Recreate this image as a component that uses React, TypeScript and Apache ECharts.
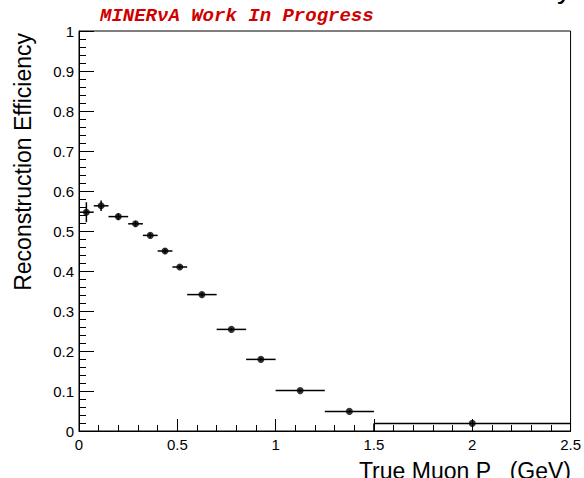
import React, { useEffect, useRef } from "react";
import * as echarts from "echarts";

// Muon momentum bin edges (GeV) and the measured efficiency in each bin
const binEdges = [0, 0.075, 0.15, 0.25, 0.325, 0.4, 0.475, 0.55, 0.7, 0.85, 1.0, 1.25, 1.5, 2.5];
const efficiency = [0.547, 0.563, 0.536, 0.518, 0.489, 0.45, 0.41, 0.341, 0.254, 0.179, 0.101, 0.049, 0.019];
const efficiencyErr = [0.025, 0.013, 0.008, 0.007, 0.006, 0.006, 0.005, 0.005, 0.004, 0.004, 0.003, 0.003, 0.002];

const xTickLabels = ["0", "0.5", "1", "1.5", "2", "2.5"];
const yTickLabels = ["0", "0.1", "0.2", "0.3", "0.4", "0.5", "0.6", "0.7", "0.8", "0.9", "1"];

const FONT = "'Liberation Sans', Arial, Helvetica, sans-serif";

export default function App() {
  const ref = useRef<HTMLDivElement>(null);

  useEffect(() => {
    if (!ref.current) return;
    const chart = echarts.init(ref.current, undefined, { renderer: "svg" });

    const bins = efficiency.map((eff, i) => {
      const lo = binEdges[i];
      const hi = binEdges[i + 1];
      return [lo, hi, (lo + hi) / 2, eff, efficiencyErr[i]];
    });
    const points = bins.map((b) => [b[2], b[3]]);
    const last = efficiency.length - 1;

    const option: any = {
      animation: false,
      backgroundColor: "#fff",
      grid: {
        left: 79,
        right: 13,
        top: 31,
        bottom: 47,
        show: true,
        borderColor: "#000",
        borderWidth: 1,
      },
      xAxis: {
        type: "value",
        min: 0,
        max: 2.5,
        interval: 0.5,
        axisLine: { show: true, onZero: false, lineStyle: { color: "#000", width: 1 } },
        axisTick: { show: true, inside: true, length: 12, lineStyle: { color: "#000", width: 1 } },
        minorTick: { show: true, splitNumber: 5, length: 6, lineStyle: { color: "#000", width: 1 } },
        splitLine: { show: false },
        minorSplitLine: { show: false },
        axisLabel: {
          margin: 6,
          fontSize: 15,
          color: "#000",
          fontFamily: FONT,
          showMinLabel: true,
          showMaxLabel: true,
          formatter: (v: number) => xTickLabels[Math.round(v / 0.5)] ?? "",
        },
      },
      yAxis: {
        type: "value",
        min: 0,
        max: 1,
        interval: 0.1,
        axisLine: { show: true, onZero: false, lineStyle: { color: "#000", width: 1 } },
        axisTick: { show: true, inside: true, length: 15, lineStyle: { color: "#000", width: 1 } },
        minorTick: { show: true, splitNumber: 5, length: 7, lineStyle: { color: "#000", width: 1 } },
        splitLine: { show: false },
        minorSplitLine: { show: false },
        axisLabel: {
          margin: 5,
          fontSize: 15,
          color: "#000",
          fontFamily: FONT,
          showMinLabel: true,
          showMaxLabel: true,
          formatter: (v: number) => yTickLabels[Math.round(v / 0.1)] ?? "",
        },
      },
      series: [
        {
          type: "custom",
          clip: true,
          data: bins,
          encode: { x: 2, y: 3 },
          renderItem: (_params: any, api: any) => {
            const lo = api.value(0);
            const hi = api.value(1);
            const xc = api.value(2);
            const y = api.value(3);
            const e = api.value(4);
            const a = api.coord([lo, y]);
            const b = api.coord([hi, y]);
            const t = api.coord([xc, y + e]);
            const d = api.coord([xc, y - e]);
            const style = { stroke: "#000", lineWidth: 1.5 };
            return {
              type: "group",
              children: [
                { type: "line", shape: { x1: a[0], y1: a[1], x2: b[0], y2: b[1] }, style },
                { type: "line", shape: { x1: t[0], y1: t[1], x2: d[0], y2: d[1] }, style },
              ],
            };
          },
        },
        {
          // outline edge of the widest bin
          type: "line",
          data: [
            [binEdges[last], 0],
            [binEdges[last], efficiency[last]],
          ],
          symbol: "none",
          lineStyle: { color: "#000", width: 1.5 },
        },
        {
          type: "scatter",
          data: points,
          symbol: "circle",
          symbolSize: 7,
          itemStyle: { color: "#000" },
        },
      ],
      graphic: [
        {
          type: "text",
          left: 100,
          top: 6,
          style: {
            text: "MINERνA Work In Progress",
            font: "italic bold 19px 'Liberation Mono', 'DejaVu Sans Mono', monospace",
            fill: "#d00000",
          },
        },
        {
          // canvas title, sitting mostly above the visible area
          type: "text",
          x: 572,
          y: 2,
          style: {
            text: "Reconstruction Efficiency",
            font: `30px ${FONT}`,
            fill: "#000",
            align: "right",
            verticalAlign: "bottom",
          },
        },
        {
          type: "text",
          x: 23,
          y: 33,
          rotation: Math.PI / 2,
          style: {
            text: "Reconstruction Efficiency",
            font: `23px ${FONT}`,
            fill: "#000",
            align: "right",
            verticalAlign: "middle",
          },
        },
        {
          type: "text",
          x: 491,
          y: 459,
          style: {
            text: "True Muon P",
            font: `23px ${FONT}`,
            fill: "#000",
            align: "right",
            verticalAlign: "top",
          },
        },
        {
          type: "text",
          x: 571,
          y: 459,
          style: {
            text: "(GeV)",
            font: `23px ${FONT}`,
            fill: "#000",
            align: "right",
            verticalAlign: "top",
          },
        },
      ],
    };

    chart.setOption(option);
    return () => chart.dispose();
  }, []);

  return (
    <div
      ref={ref}
      style={{ position: "absolute", left: 0, top: 0, width: 584, height: 478 }}
    />
  );
}
